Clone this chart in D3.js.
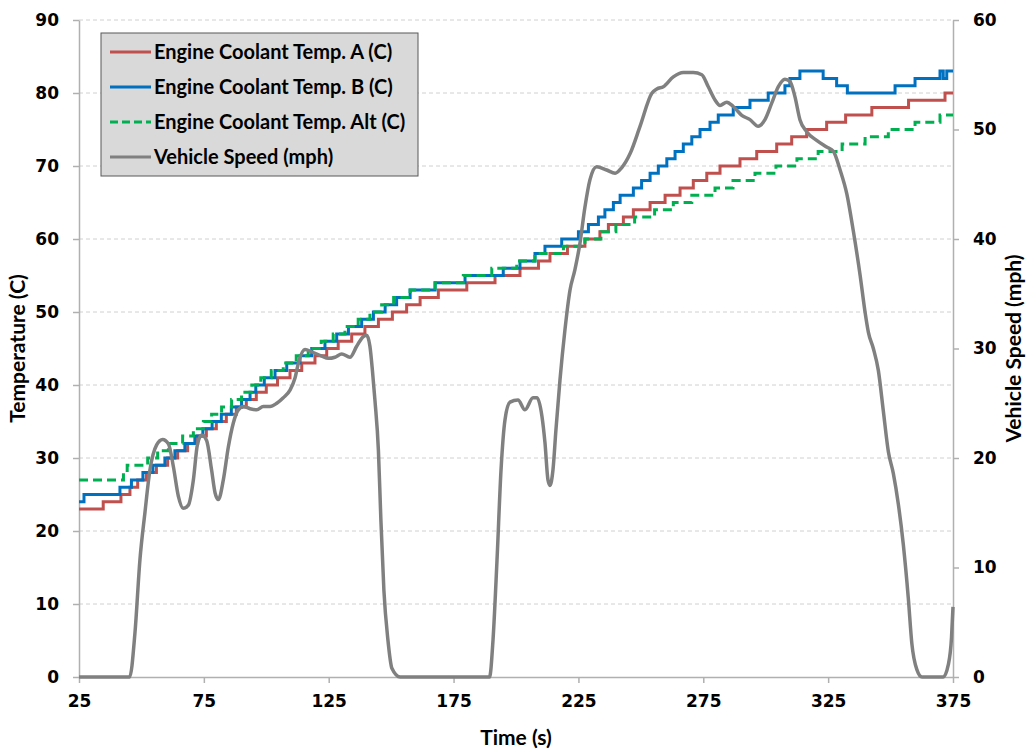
<!DOCTYPE html>
<html>
<head>
<meta charset="utf-8">
<script src="https://d3js.org/d3.v7.min.js"></script>
<style>
  body { margin: 0px; background: #ffffff; }
  .tick text { font: bold 17px "DejaVu Sans", sans-serif; fill: #000; }
  .title { font: bold 21px Lato, "Open Sans", sans-serif; fill: #000; }
  .legend-text { font: bold 20px Lato, "Open Sans", sans-serif; fill: #000; }
</style>
</head>
<body>
<svg id="chart" width="1029" height="752"></svg>
<script>
// step changes: [time (s), value (C)]
var tempA = [[25,23],[34.7,24],[41.8,25],[45.4,26],[48.5,27],[52,28],[56,29],[60.5,30],[64.5,31],[68.5,32],
  [72.5,33],[76,34],[80,35],[84,36],[88,37],[92,38],[96,39],[100,40],[104.5,41],[109.5,42],[114.2,43],
  [119.5,44],[124.2,45],[128.8,46],[134.2,47],[139.5,48],[144.9,49],[150.5,50],[156.2,51],[161.6,52],
  [168.9,53],[180.3,54],[191.6,55],[201.6,56],[209,57],[213.6,58],[220.6,59],[227.6,60],[233.6,61],
  [237,62],[243,63],[247,64],[253.7,65],[259.7,66],[265.7,67],[271,68],[276.4,69],[281.7,70],[289.7,71],
  [296.4,72],[304.4,73],[310.4,74],[316.4,75],[324.4,76],[332,77],[342.5,78],[357.2,79],[371.8,80]];

var tempB = [[25,24],[27,25],[41.4,26],[46,27],[50.6,28],[54.6,29],[59.4,30],[63.4,31],[67.4,32],[71.4,33],
  [74.6,34],[78.3,35],[82,36],[86,37],[90.1,38],[93.5,39],[95.8,40],[99.2,41],[103.5,42],[108.2,43],
  [113.5,44],[118.2,45],[123.5,46],[128.2,47],[132.9,48],[138.2,49],[142.9,50],[147.6,51],[152.2,52],
  [157.6,53],[167.6,54],[179.6,55],[194.9,56],[201.6,57],[207.6,58],[211.6,59],[218.3,60],[225,61],
  [229,62],[233,63],[235.6,64],[239,65],[241.7,66],[247,67],[250.3,68],[253.7,69],[257,70],[260.4,71],
  [263.7,72],[267,73],[270.4,74],[273.7,75],[277.7,76],[281,77],[287,78],[293.7,79],[301,80],[307.7,81],
  [309.7,82],[313.7,83],[323,82],[328.4,81],[332.7,80],[351.8,81],[359.8,82],[369.8,83],[371.1,82],[372.5,83]];

var tempAlt = [[25,27],[42.8,28],[44.3,29],[52.5,30],[56.5,31],[60.8,32],[66.5,33],[70.8,34],[74.8,35],
  [78.1,36],[82.1,37],[86.1,38],[90.1,39],[94.2,40],[97.8,41],[102,42],[106.8,43],[112,44],[116.8,45],
  [122,46],[126.8,47],[131.5,48],[136.8,49],[141.5,50],[146.2,51],[151,52],[157.6,53],[167.6,54],
  [178.9,55],[190.3,56],[200.3,57],[207.6,58],[219,59],[227.6,60],[234,61],[240,62],[247.5,63],
  [255.5,64],[263,65],[270.4,66],[279.7,67],[286.9,68],[295.7,69],[304.1,70],[312.5,71],[321,72],
  [330.6,73],[339.8,74],[349.1,75],[359.8,76],[369.8,77]];

// vehicle speed: [time (s), mph]
var speed = [[25,0],[45.3,0],[47.4,4],[49.4,10.7],[51.4,15],[53.4,18.9],[56.1,21.2],[58.5,21.7],[60.8,21.3],
  [62.8,19.2],[64.8,16.5],[66.8,15.4],[68.8,15.7],[70.8,18],[72.4,21.2],[74.1,22.1],[76.1,21.6],[78.1,18.9],
  [79.5,16.8],[80.8,16.2],[82.8,18],[84.8,21],[86.8,23.2],[88.8,24.4],[90.8,24.7],[93.5,24.5],[96.2,24.4],
  [98.8,24.7],[101.5,24.7],[104.2,25],[106.8,25.5],[109.5,26.2],[111.5,27.3],[113,28.8],[115.5,29.9],
  [118.2,29.7],[122.2,29.3],[124.8,29.1],[127.5,29.2],[130.2,29.5],[133.5,29.2],[136.2,30.2],[138.9,31.1],
  [140.2,31.2],[141.5,30.2],[142.5,28],[143.5,25.3],[144.9,20.7],[145.9,14.3],[147.1,7.9],[148.7,3.4],
  [150.3,0.8],[153.6,0],[189.4,0],[190.8,3.4],[192.4,10.7],[194,18.9],[195.6,23.5],[197.6,25.1],
  [200.8,25.3],[203.6,24.4],[206.8,25.5],[208.4,25.5],[210.4,23.8],[211.6,21.4],[212.8,18],[213.6,17.5],
  [214.8,18.9],[216,22.6],[217.6,27.1],[219.6,31.7],[221.6,35.3],[223.6,37.2],[225.6,39.6],[227.6,42.9],
  [229.6,45.4],[232.3,46.6],[236.3,46.3],[239.7,46],[242.3,46.5],[245.7,47.8],[249.7,50.3],[254.4,53.3],
  [256.4,53.7],[259,53.9],[263,54.8],[267,55.2],[271,55.2],[274.4,55],[277,53.9],[279.7,52.7],[281.7,52.2],
  [284.4,52.5],[287,52.1],[290.4,51.3],[293.7,50.9],[297,50.3],[299.7,50.9],[302.4,52.4],[305,53.9],
  [307.7,54.6],[309.7,54.4],[311.7,53],[313.7,50.9],[316.4,49.8],[320.4,49],[324.4,48.4],[327.1,48],
  [329.8,46.3],[332.5,44.1],[335.1,40.7],[337.8,36.7],[339.8,33.3],[341.1,31.5],[343.1,30],[345.1,28],
  [347.1,24.3],[349.1,20.6],[351.1,18.6],[353.1,15.8],[355.1,12.1],[357.1,7.2],[358.5,3.1],[360.5,0.7],
  [362.6,0],[371.1,0],[373.1,1.1],[374.4,3.6],[375,6.4]];

var timeTicks = [25, 75, 125, 175, 225, 275, 325, 375];
var tempTicks = [0, 10, 20, 30, 40, 50, 60, 70, 80, 90];
var speedTicks = [0, 10, 20, 30, 40, 50, 60];

var seriesNames = ["Engine Coolant Temp. A (C)", "Engine Coolant Temp. B (C)",
                   "Engine Coolant Temp. Alt (C)", "Vehicle Speed (mph)"];
var seriesColors = ["#c0504d", "#0070c0", "#00b050", "#808080"];

var svg = d3.select("#chart");
var plotL = 79, plotR = 953, plotT = 20, plotB = 677;

var x = d3.scaleLinear().domain([25, 375]).range([plotL, plotR]);
var yT = d3.scaleLinear().domain([0, 90]).range([plotB, plotT]);
var yS = d3.scaleLinear().domain([0, 60]).range([plotB, plotT]);

// gridlines
svg.append("g").selectAll("line")
  .data(tempTicks.filter(function(d) { return d > 0; }))
  .enter().append("line")
    .attr("x1", plotL).attr("x2", plotR)
    .attr("y1", function(d) { return yT(d); })
    .attr("y2", function(d) { return yT(d); })
    .attr("stroke", "#d0d0d0")
    .attr("stroke-width", 1)
    .attr("stroke-dasharray", "4,3");

function styleAxis(g) {
  g.select(".domain").attr("stroke", "#b0b0b0").attr("stroke-width", 1.5);
  g.selectAll(".tick line").attr("stroke", "#b0b0b0").attr("stroke-width", 1.5);
  g.attr("font-family", null).attr("font-size", null);
}

svg.append("g")
  .attr("transform", "translate(" + plotL + ",0)")
  .call(d3.axisLeft(yT).tickValues(tempTicks).tickSize(6).tickSizeOuter(0).tickPadding(14))
  .call(styleAxis);

svg.append("g")
  .attr("transform", "translate(" + plotR + ",0)")
  .call(d3.axisRight(yS).tickValues(speedTicks).tickSize(6).tickSizeOuter(0).tickPadding(14))
  .call(styleAxis);

svg.append("g")
  .attr("transform", "translate(0," + plotB + ")")
  .call(d3.axisBottom(x).tickValues(timeTicks).tickSize(6).tickSizeOuter(0).tickPadding(12))
  .call(styleAxis);

// step lines
function stepData(arr) {
  var d = arr.slice();
  d.push([375, arr[arr.length - 1][1]]);
  return d;
}
var stepLine = d3.line()
  .x(function(d) { return x(d[0]); })
  .y(function(d) { return yT(d[1]); })
  .curve(d3.curveStepAfter);

var g = svg.append("g");
g.append("path").datum(stepData(tempA))
  .attr("d", stepLine).attr("fill", "none")
  .attr("stroke", seriesColors[0]).attr("stroke-width", 3);
g.append("path").datum(stepData(tempB))
  .attr("d", stepLine).attr("fill", "none")
  .attr("stroke", seriesColors[1]).attr("stroke-width", 3);
g.append("path").datum(stepData(tempAlt))
  .attr("d", stepLine).attr("fill", "none")
  .attr("stroke", seriesColors[2]).attr("stroke-width", 3)
  .attr("stroke-dasharray", "9,5");

var speedLine = d3.line()
  .x(function(d) { return x(d[0]); })
  .y(function(d) { return yS(d[1]); })
  .curve(d3.curveMonotoneX);
g.append("path").datum(speed)
  .attr("d", speedLine).attr("fill", "none")
  .attr("stroke", seriesColors[3]).attr("stroke-width", 3.5)
  .attr("stroke-linejoin", "round");

// axis titles
svg.append("text").attr("class", "title")
  .attr("transform", "translate(25," + (plotT + plotB) / 2 + ") rotate(-90)")
  .attr("text-anchor", "middle").text("Temperature (C)");
svg.append("text").attr("class", "title")
  .attr("transform", "translate(1021," + (plotT + plotB) / 2 + ") rotate(-90)")
  .attr("text-anchor", "middle").text("Vehicle Speed (mph)");
svg.append("text").attr("class", "title")
  .attr("x", (plotL + plotR) / 2).attr("y", 745)
  .attr("text-anchor", "middle").text("Time (s)");

// legend
var lg = svg.append("g").attr("transform", "translate(101,33)");
lg.append("rect").attr("width", 317).attr("height", 143)
  .attr("fill", "#d9d9d9").attr("stroke", "#595959").attr("stroke-width", 1);
var item = lg.selectAll(".item").data(seriesNames).enter().append("g")
  .attr("transform", function(d, i) { return "translate(0," + (19 + i * 35) + ")"; });
item.append("line").attr("x1", 9).attr("x2", 50)
  .attr("stroke", function(d, i) { return seriesColors[i]; })
  .attr("stroke-width", 3)
  .attr("stroke-dasharray", function(d, i) { return i === 2 ? "8,4" : null; });
item.append("text").attr("class", "legend-text")
  .attr("x", 53).attr("dy", "0.35em").text(function(d) { return d; });
</script>
</body>
</html>
